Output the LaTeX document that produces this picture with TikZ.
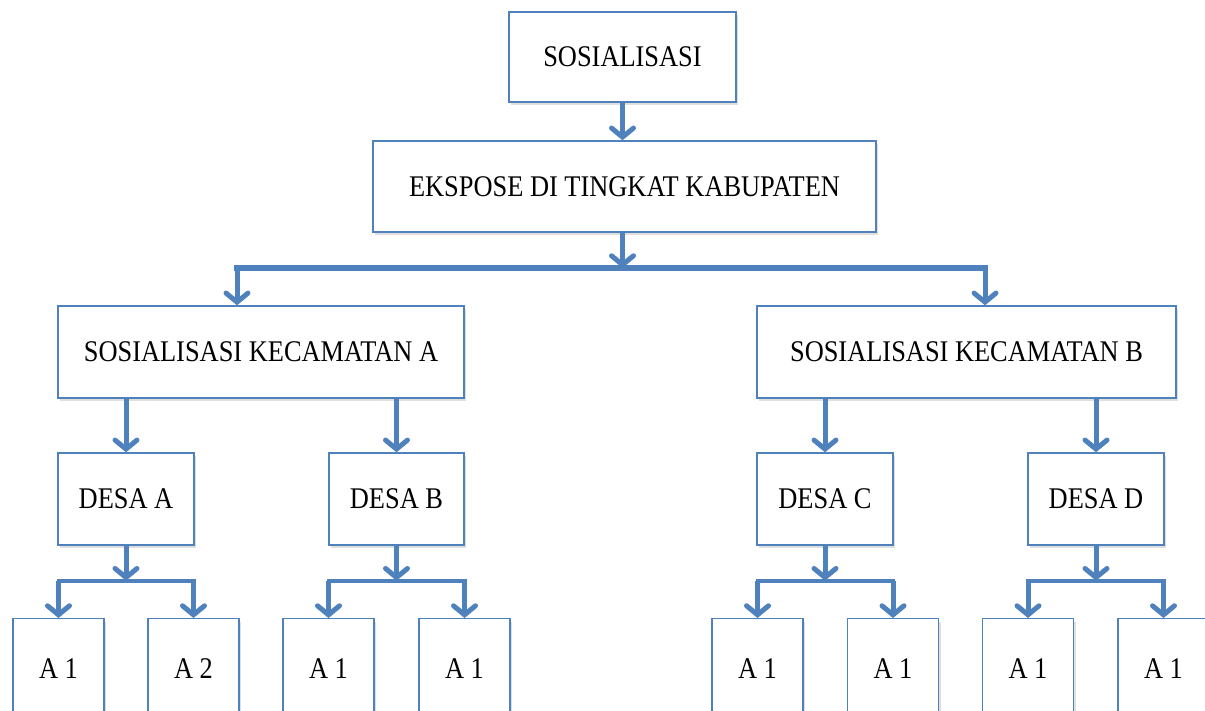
\documentclass[tikz,border=0pt]{standalone}
\usepackage{fontspec}
\setmainfont[FakeStretch=0.88]{Liberation Serif}
\usetikzlibrary{arrows.meta,shadows}
\definecolor{ob}{HTML}{4F81BD}
\begin{document}
\begin{tikzpicture}[x=1pt,y=-1pt,
  box/.style={draw=ob,line width=1.4pt,fill=white,inner sep=0pt,
    font=\fontsize{30}{34}\selectfont,
    drop shadow={opacity=0.25,shadow xshift=2pt,shadow yshift=-3pt}},
  arr/.style={draw=ob,line width=5pt,-{Straight Barb[length=9pt,width=22pt,line cap=round]}},
  bigbar/.style={draw=ob,line width=6pt},
  smallbar/.style={draw=ob,line width=4pt}]
\useasboundingbox (0,0) rectangle (1205,711);
\clip (0,0) rectangle (1205,711);
% boxes
\node[box,minimum width=227pt,minimum height=90pt] (top) at (622.5,57) {SOSIALISASI};
\node[box,minimum width=503pt,minimum height=91pt] (eks) at (624.5,186.5) {EKSPOSE DI TINGKAT KABUPATEN\hspace{22pt}};
\node[box,minimum width=406pt,minimum height=92pt] (kA) at (261,352) {SOSIALISASI KECAMATAN A};
\node[box,minimum width=419pt,minimum height=92pt] (kB) at (966.5,352) {SOSIALISASI KECAMATAN B\hspace{17pt}};
\node[box,minimum width=136pt,minimum height=92pt] (dA) at (126,499) {DESA A};
\node[box,minimum width=135pt,minimum height=92pt] (dB) at (396.5,499) {DESA B};
\node[box,minimum width=136pt,minimum height=92pt] (dC) at (825,499) {DESA C};
\node[box,minimum width=136pt,minimum height=92pt] (dD) at (1096,499) {DESA D};
\foreach \n/\x/\t in {a1/58.5/A 1, a2/193.5/A 2, b1/328.5/A 1, b2/464.5/A 1,
                      c1/757.5/A 1, c2/893/A 1, d1/1028/A 1, d2/1163.5/A 1}{
  \node[box,anchor=north,minimum width=91pt,minimum height=100pt] (\n) at (\x,618) {\t\hspace{12pt}};
}
% connectors
\draw[arr] (top.south) -- (top.south |- eks.north);
\coordinate (bar) at (622.5,268);
\coordinate (bl) at (237,268);
\coordinate (br) at (985,268);
\draw[bigbar] ([xshift=-3pt]bl) -- ([xshift=3pt]br);
\draw[arr] (eks.south -| top.south) -- (bar);
\draw[arr] (bl) -- (bl |- kA.north);
\draw[arr] (br) -- (br |- kB.north);
\draw[arr] (kA.south -| dA.north) -- (dA.north);
\draw[arr] (kA.south -| dB.north) -- (dB.north);
\draw[arr] (kB.south -| dC.north) -- (dC.north);
\draw[arr] (kB.south -| dD.north) -- (dD.north);
\foreach \d/\l/\r in {dA/a1/a2, dB/b1/b2, dC/c1/c2, dD/d1/d2}{
  \path (\d.south) ++(0,35) coordinate (j\d);
  \draw[smallbar] ([xshift=-2pt]\l.north |- j\d) -- ([xshift=2pt]\r.north |- j\d);
  \draw[arr] (\d.south) -- (j\d);
  \draw[arr] (\l.north |- j\d) -- (\l.north);
  \draw[arr] (\r.north |- j\d) -- (\r.north);
}
\end{tikzpicture}
\end{document}
